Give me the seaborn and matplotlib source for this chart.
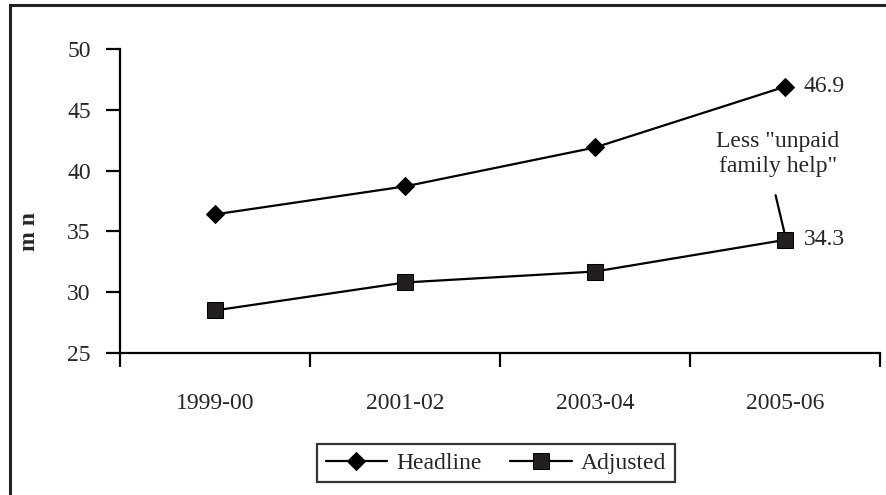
import numpy as np
import pandas as pd
import matplotlib
matplotlib.use('Agg')
import matplotlib.pyplot as plt
import seaborn as sns
from matplotlib.patches import Rectangle

# 데이터
years = ['1999-00', '2001-02', '2003-04', '2005-06']
headline = [36.4, 38.7, 41.9, 46.9]
adjusted = [28.5, 30.8, 31.7, 34.3]

df = pd.DataFrame({'year': years * 2,
                   'value': headline + adjusted,
                   'series': ['Headline'] * 4 + ['Adjusted'] * 4})

sns.set_style('white')
plt.rcParams['font.family'] = ['Liberation Serif', 'DejaVu Serif']
plt.rcParams['font.size'] = 17

fig = plt.figure(figsize=(8.87, 4.95), dpi=100)
ax = fig.add_axes([120 / 887, 1 - 353 / 495, 760 / 887, 304 / 495])

sns.lineplot(data=df[df.series == 'Headline'], x='year', y='value', ax=ax,
             color='black', lw=1.6, marker='D', markersize=9,
             markeredgecolor='black', label='Headline')
sns.lineplot(data=df[df.series == 'Adjusted'], x='year', y='value', ax=ax,
             color='black', lw=1.6, marker='s', markersize=11,
             markeredgecolor='black', markerfacecolor='#231f20', label='Adjusted')

# 축
ax.set_xlim(-0.5, 3.5)
ax.set_ylim(25, 50)
ax.set_yticks([25, 30, 35, 40, 45, 50])
ax.set_xticks([-0.5, 0.5, 1.5, 2.5, 3.5])
ax.set_xticklabels([])
ax.set_xticks(range(4), minor=True)
ax.set_xticklabels(years, minor=True)
ax.tick_params(axis='x', which='major', direction='out', length=10, width=1.6, bottom=True, color='black')
ax.tick_params(axis='x', which='minor', length=0, pad=29, bottom=True)
ax.tick_params(axis='y', direction='out', length=10, width=1.6, left=True, pad=11, color='black')
for s in ['top', 'right']:
    ax.spines[s].set_visible(False)
for s in ['left', 'bottom']:
    ax.spines[s].set_color('black')
    ax.spines[s].set_linewidth(1.6)

ax.set_xlabel('')
ax.set_ylabel('m n', fontweight='bold', fontsize=17)
ax.yaxis.set_label_coords(-0.105, 0.40)

# 값 라벨
ax.text(3.1, headline[3], '46.9', va='center', ha='left', fontsize=17)
ax.text(3.1, adjusted[3], '34.3', va='center', ha='left', fontsize=17)
ax.text(2.963, 41.4, 'Less "unpaid\nfamily help"', ha='center', va='center',
        fontsize=17, linespacing=1.25)
ax.annotate('', xy=(3, adjusted[3] + 0.4), xytext=(2.947, 38.2),
            arrowprops=dict(arrowstyle='-', color='black', lw=1.6))

# 범례
ax.legend_.remove()
h, l = ax.get_legend_handles_labels()
leg = fig.legend(h, l, loc='center', bbox_to_anchor=(496 / 887, 1 - 463 / 495),
                 ncol=2, frameon=True, fancybox=False, edgecolor='black',
                 handlelength=2.6, columnspacing=1.2, handletextpad=0.4,
                 borderpad=0.35, fontsize=17)
leg.get_frame().set_linewidth(1.6)

# 바깥 테두리
fig.patches.append(Rectangle((10 / 887, -0.2), 1.2, 1.2 - 5 / 495,
                             transform=fig.transFigure, fill=False,
                             edgecolor='#222222', lw=2.2, figure=fig))

fig.savefig('out.png', dpi=100)
